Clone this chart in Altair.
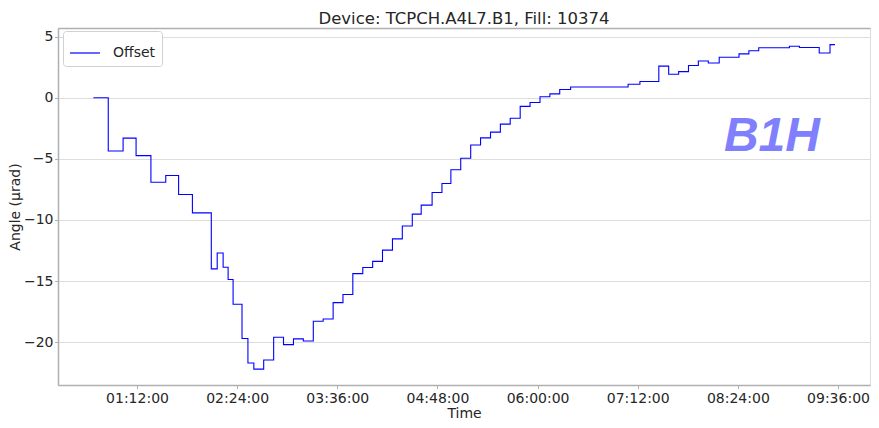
import altair as alt
import pandas as pd

DAY = "2024-01-01"

# step data (time of change, new value in µrad)
times = [
    "00:40:40", "00:51:20", "01:02:00", "01:11:20", "01:22:00", "01:32:40",
    "01:41:55", "01:51:50", "02:05:25", "02:09:40", "02:13:55", "02:17:30",
    "02:21:05", "02:27:30", "02:31:45", "02:36:00", "02:43:05", "02:50:15",
    "02:57:20", "03:04:30", "03:11:35", "03:18:45", "03:25:50", "03:33:00",
    "03:40:05", "03:47:10", "03:54:20", "04:01:25", "04:08:30", "04:15:40",
    "04:22:45", "04:29:55", "04:36:20", "04:44:10", "04:51:15", "04:57:40",
    "05:04:45", "05:11:55", "05:19:00", "05:26:10", "05:33:15", "05:40:20",
    "05:47:30", "05:54:35", "06:01:45", "06:08:50", "06:15:55", "06:23:45",
    "07:05:05", "07:13:35", "07:27:10", "07:34:15", "07:41:25", "07:48:30",
    "07:55:35", "08:02:45", "08:10:35", "08:24:50", "08:31:55", "08:39:00",
    "09:01:05", "09:08:15", "09:22:30", "09:30:15", "09:33:50",
]
values = [
    0.00, -4.36, -3.31, -4.74, -6.92, -6.37,
    -7.92, -9.42, -14.00, -12.70, -13.87, -14.87,
    -16.90, -19.70, -21.70, -22.20, -21.45, -19.60,
    -20.20, -19.73, -19.90, -18.28, -18.10, -16.76,
    -16.10, -14.39, -13.89, -13.39, -12.47, -11.55,
    -10.50, -9.52, -8.79, -7.76, -7.02, -5.89,
    -4.95, -3.87, -3.29, -2.82, -2.16, -1.68,
    -0.71, -0.39, 0.08, 0.31, 0.67, 0.87,
    1.10, 1.32, 2.58, 1.92, 2.13, 2.63,
    3.00, 2.84, 3.31, 3.58, 3.84, 4.08,
    4.21, 4.10, 3.65, 4.34, 4.34,
]
series_name = "Offset"

x_tick_labels = ["01:12:00", "02:24:00", "03:36:00", "04:48:00",
                 "06:00:00", "07:12:00", "08:24:00", "09:36:00"]
x_domain = ["00:15:12", "09:59:00"]
y_domain = [-23.5, 5.7]
y_ticks = [-20, -15, -10, -5, 0, 5]

annot_text = ["B1H"]
annot_time = ["08:48:30"]
annot_value = [-3.2]

title_text = "Device: TCPCH.A4L7.B1, Fill: 10374"


def dt(s):
    h, m, sec = (int(p) for p in s.split(":"))
    return alt.DateTime(year=2024, month=1, date=1, hours=h, minutes=m, seconds=sec)


df = pd.DataFrame({
    "time": [f"{DAY}T{t}" for t in times],
    "value": values,
    "series": [series_name] * len(times),
})
annot_df = pd.DataFrame({
    "label": annot_text,
    "time": [f"{DAY}T{t}" for t in annot_time],
    "value": annot_value,
})

FONT = "DejaVu Sans"
SPINE = "#b0b0b0"
TXT = "#262626"

x_scale = alt.Scale(domain=[dt(x_domain[0]), dt(x_domain[1])])
y_scale = alt.Scale(domain=y_domain, nice=False, zero=False)

x_axis = alt.Axis(
    values=[dt(t) for t in x_tick_labels], format="%H:%M:%S", title="Time",
    grid=False, domainColor=SPINE, domainWidth=1.5, tickColor=SPINE, tickSize=3.5,
    tickWidth=1, labelFont=FONT, labelFontSize=14, labelColor=TXT, labelPadding=2.5,
    labelFlush=False, labelOverlap=False, titleFont=FONT, titleFontSize=14,
    titleFontWeight="normal", titleColor=TXT, titlePadding=1,
)
top_axis = alt.Axis(
    orient="top", labels=False, ticks=False, grid=False, domain=True, title=None,
    domainColor=SPINE, domainWidth=1.5,
)
y_axis = alt.Axis(
    values=y_ticks, title="Angle (µrad)", grid=True, gridColor="#dddddd",
    gridWidth=1, domainColor=SPINE, domainWidth=1.5, tickColor=SPINE, tickSize=3.5,
    tickWidth=1, labelFont=FONT, labelFontSize=14, labelColor=TXT, labelPadding=1.5,
    titleFont=FONT, titleFontSize=14, titleFontWeight="normal", titleColor=TXT,
    titlePadding=1,
)

line = alt.Chart(df).mark_line(interpolate="step-after", strokeWidth=1.1, clip=True).encode(
    x=alt.X("time:T", scale=x_scale, axis=x_axis),
    y=alt.Y("value:Q", scale=y_scale, axis=y_axis),
    color=alt.Color(
        "series:N",
        scale=alt.Scale(range=["#0000ff"]),
        legend=alt.Legend(
            title=None, orient="none", legendX=5, legendY=3, symbolType="stroke",
            symbolSize=900, symbolStrokeWidth=1.2, labelFont=FONT, labelFontSize=14,
            labelColor=TXT, labelOffset=12, padding=6, strokeColor="#d0d0d0",
            fillColor="white", cornerRadius=3,
        ),
    ),
)

text = alt.Chart(annot_df).mark_text(
    font="Liberation Sans", fontSize=48, fontWeight="bold", fontStyle="italic",
    color="#8080ff", align="center", baseline="middle",
).encode(
    x=alt.X("time:T", scale=x_scale, axis=top_axis),
    y=alt.Y("value:Q", scale=y_scale, axis=y_axis),
    text="label:N",
)

chart = alt.layer(line, text).resolve_axis(x="independent").properties(
    width=812,
    height=357,
    autosize=alt.AutoSizeParams(type="none"),
    padding={"left": 50, "top": 20, "right": 1, "bottom": 35},
    title=alt.TitleParams(
        text=title_text, font=FONT, fontSize=16.5, fontWeight="normal", color=TXT,
        anchor="middle", offset=1,
    ),
).configure_view(stroke=None).configure(font=FONT)

chart.save("out.html", embed_options={"renderer": "svg", "actions": False})
